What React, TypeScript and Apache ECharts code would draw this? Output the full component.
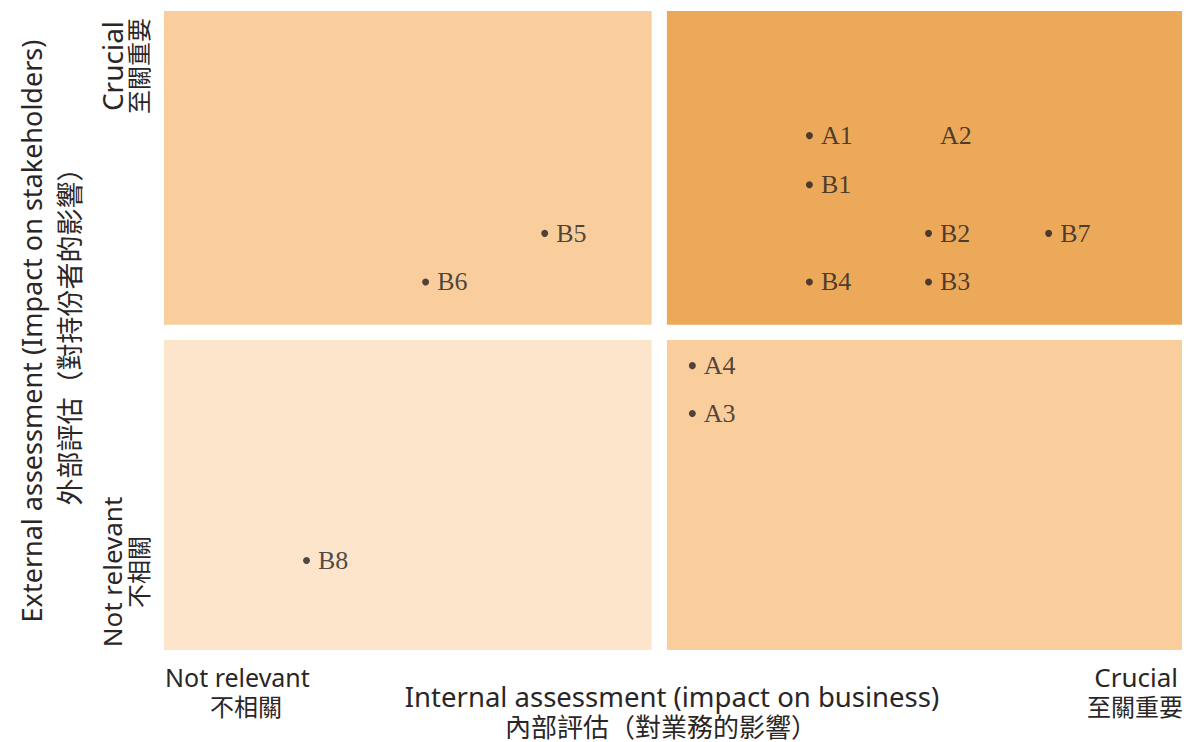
import React, { useEffect, useRef } from "react";
import * as echarts from "echarts";

// Points: [internal score (x), external score (y)], 0–10 scales
const pointNames = ["A1", "A2", "B1", "B2", "B7", "B4", "B3", "B5", "B6", "A4", "A3", "B8"];
const internalScores = [6.34, 7.51, 6.34, 7.51, 8.69, 6.34, 7.51, 3.74, 2.57, 5.19, 5.19, 1.4];
const externalScores = [8.05, 8.05, 7.28, 6.52, 6.52, 5.76, 5.76, 6.52, 5.76, 4.45, 3.7, 1.4];
const hiddenDot = ["A2"];

// Quadrants: [xFrom, xTo, yFrom, yTo]
const quadrantNames = ["low-high", "high-high", "low-low", "high-low"];
const quadrantX = [[0, 4.79], [4.94, 10], [0, 4.79], [4.94, 10]];
const quadrantY = [[5.09, 10], [5.09, 10], [0, 4.85], [0, 4.85]];
const quadrantColors = ["#F9CD9C", "#EDA95A", "#FDE5CC", "#F9CD9C"];

const xTitle = ["Internal assessment (impact on business)", "內部評估（對業務的影響）"];
const yTitle = ["External assessment (Impact on stakeholders)", "外部評估（對持份者的影響）"];
const lowLabel = ["Not relevant", "不相關"];
const highLabel = ["Crucial", "至關重要"];

const SANS = "'Noto Sans', sans-serif";
const CJK = "'Noto Sans CJK TC', sans-serif";
const TEXT = "#2b2626";

export default function App() {
  const ref = useRef<HTMLDivElement>(null);
  useEffect(() => {
    if (!ref.current) return;
    const chart = echarts.init(ref.current, undefined, { renderer: "svg" });
    const data = pointNames.map((n, i) => ({
      name: n,
      value: [internalScores[i], externalScores[i]],
      itemStyle: hiddenDot.includes(n) ? { color: "transparent" } : undefined,
    }));
    const areas = quadrantNames.map((n, i) => [
      { name: "", xAxis: quadrantX[i][0], yAxis: quadrantY[i][0], itemStyle: { color: quadrantColors[i], opacity: 1 } },
      { xAxis: quadrantX[i][1], yAxis: quadrantY[i][1] },
    ]);
    const t = (x: number, y: number, text: string, size: number, font: string, align: string, rot = 0) => ({
      type: "text",
      x,
      y,
      rotation: rot,
      style: {
        text,
        fontSize: size,
        lineHeight: size,
        fontFamily: font,
        fill: TEXT,
        align,
        verticalAlign: "middle",
      },
    });
    chart.setOption({
      animation: false,
      backgroundColor: "#ffffff",
      grid: { left: 164, right: 7, top: 11, bottom: 92 },
      xAxis: {
        type: "value",
        min: 0,
        max: 10,
        axisLine: { show: false },
        axisTick: { show: false },
        axisLabel: { show: false },
        splitLine: { show: false },
      },
      yAxis: {
        type: "value",
        min: 0,
        max: 10,
        axisLine: { show: false },
        axisTick: { show: false },
        axisLabel: { show: false },
        splitLine: { show: false },
      },
      series: [
        {
          type: "scatter",
          data,
          symbol: "circle",
          symbolSize: 7,
          itemStyle: { color: "#231f20" },
          label: {
            show: true,
            position: "right",
            distance: 8,
            formatter: "{b}",
            fontFamily: "'Liberation Serif', serif",
            fontSize: 26,
            color: "#231f20",
          },
          markArea: {
            silent: true,
            label: { show: false },
            data: areas,
          },
          z: 3,
        },
      ],
      graphic: [
        t(672, 696, xTitle[0], 27.5, SANS, "center"),
        t(661, 725, xTitle[1], 26, CJK, "center"),
        t(165, 677, lowLabel[0], 25, SANS, "left"),
        t(246, 705, lowLabel[1], 24, CJK, "center"),
        t(1178, 677, highLabel[0], 26, SANS, "right"),
        t(1135, 705, highLabel[1], 24, CJK, "center"),
        t(31, 331, yTitle[0], 27, SANS, "center", Math.PI / 2),
        t(68, 330, yTitle[1], 27, CJK, "center", Math.PI / 2),
        t(112, 66, highLabel[0], 28, SANS, "center", Math.PI / 2),
        t(137, 66, highLabel[1], 24, CJK, "center", Math.PI / 2),
        t(112, 572, lowLabel[0], 26, SANS, "center", Math.PI / 2),
        t(137, 572, lowLabel[1], 24, CJK, "center", Math.PI / 2),
      ],
    });
    return () => chart.dispose();
  }, []);
  return (
    <div
      ref={ref}
      style={{ position: "fixed", left: 0, top: 0, width: 1189, height: 742, background: "#fff" }}
    />
  );
}
